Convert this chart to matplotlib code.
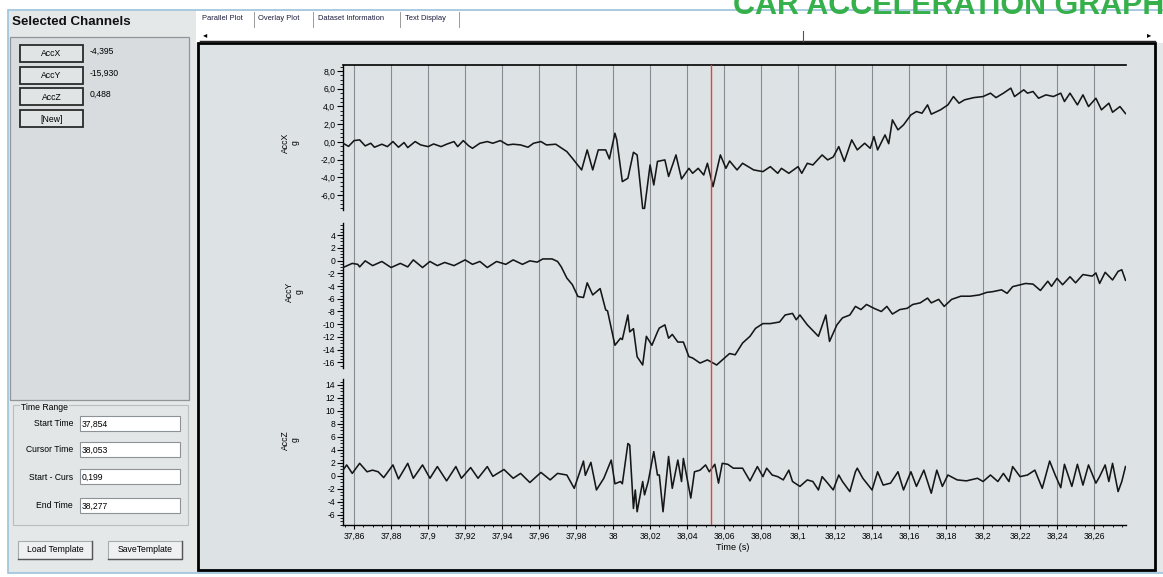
import numpy as np
import matplotlib
matplotlib.use("Agg")
import matplotlib.pyplot as plt
from matplotlib.patches import Rectangle
from matplotlib.ticker import MultipleLocator, AutoMinorLocator, FixedLocator, FuncFormatter

plt.rcParams['font.family'] = ['Liberation Sans', 'DejaVu Sans']

# --- Datos (tiempo en s, aceleracion en g) ---
accx_t = [37.854, 37.857, 37.860, 37.863, 37.866, 37.869, 37.871, 37.875, 37.878, 37.881,
          37.884, 37.887, 37.889, 37.893, 37.896, 37.900, 37.903, 37.907, 37.910, 37.914,
          37.916, 37.919, 37.922, 37.924, 37.928, 37.932, 37.935, 37.939, 37.943, 37.946,
          37.950, 37.954, 37.957, 37.961, 37.964, 37.969, 37.975, 37.978, 37.983, 37.986,
          37.989, 37.992, 37.996, 37.998, 38.001, 38.002, 38.005, 38.008, 38.011, 38.013,
          38.016, 38.017, 38.020, 38.022, 38.024, 38.028, 38.030, 38.034, 38.037, 38.041,
          38.043, 38.046, 38.049, 38.051, 38.054, 38.058, 38.061, 38.063, 38.067, 38.070,
          38.076, 38.081, 38.085, 38.089, 38.091, 38.095, 38.100, 38.102, 38.105, 38.108,
          38.113, 38.116, 38.119, 38.122, 38.125, 38.129, 38.132, 38.136, 38.139, 38.141,
          38.143, 38.147, 38.149, 38.151, 38.154, 38.157, 38.161, 38.164, 38.167, 38.170,
          38.172, 38.177, 38.181, 38.184, 38.187, 38.190, 38.195, 38.200, 38.204, 38.207,
          38.211, 38.215, 38.217, 38.222, 38.224, 38.227, 38.230, 38.234, 38.238, 38.242,
          38.244, 38.247, 38.251, 38.254, 38.257, 38.261, 38.264, 38.268, 38.270, 38.274,
          38.277]
accx_v = [-0.15, -0.50, 0.15, 0.23, -0.45, -0.15, -0.60, -0.26, -0.53, 0.04,
          -0.60, -0.07, -0.64, 0.04, -0.34, -0.53, -0.23, -0.53, -0.26, 0.04,
          -0.53, 0.15, -0.45, -0.72, -0.15, 0.04, -0.15, 0.15, -0.34, -0.26,
          -0.34, -0.60, -0.15, 0.04, -0.34, -0.26, -1.09, -1.85, -3.16, -0.90,
          -3.16, -0.90, -0.90, -1.92, 0.98, 0.23, -4.48, -4.10, -1.17, -1.47,
          -7.50, -7.50, -2.60, -4.86, -2.20, -2.03, -3.90, -1.47, -4.18, -2.98,
          -3.54, -2.98, -3.73, -2.41, -5.05, -1.47, -2.98, -2.15, -3.16, -2.41,
          -3.16, -3.35, -2.79, -3.54, -2.98, -3.54, -2.79, -3.54, -2.41, -2.60,
          -1.47, -2.03, -1.70, -0.53, -2.20, 0.23, -0.90, -0.15, -0.72, 0.60,
          -0.90, 0.79, -0.20, 2.49, 1.36, 1.92, 3.05, 3.43, 3.24, 4.18,
          3.13, 3.62, 4.18, 5.12, 4.37, 4.75, 5.00, 5.12, 5.50, 5.00,
          5.50, 6.07, 5.12, 5.88, 5.50, 5.69, 4.93, 5.31, 5.12, 5.50,
          4.56, 5.50, 4.18, 5.31, 3.99, 4.93, 3.62, 4.37, 3.35, 3.99,
          3.20]

accy_t = [37.854, 37.859, 37.862, 37.863, 37.866, 37.870, 37.875, 37.880, 37.885, 37.889,
          37.892, 37.897, 37.901, 37.905, 37.909, 37.914, 37.920, 37.924, 37.928, 37.932,
          37.937, 37.942, 37.946, 37.951, 37.955, 37.959, 37.962, 37.967, 37.970, 37.972,
          37.975, 37.978, 37.981, 37.984, 37.986, 37.989, 37.993, 37.996, 37.997, 38.001,
          38.004, 38.005, 38.008, 38.009, 38.011, 38.013, 38.016, 38.018, 38.021, 38.024,
          38.025, 38.028, 38.030, 38.032, 38.035, 38.038, 38.041, 38.043, 38.047, 38.051,
          38.056, 38.061, 38.063, 38.066, 38.070, 38.074, 38.077, 38.081, 38.085, 38.090,
          38.093, 38.097, 38.099, 38.101, 38.105, 38.111, 38.115, 38.117, 38.121, 38.124,
          38.128, 38.131, 38.134, 38.137, 38.141, 38.145, 38.148, 38.151, 38.155, 38.159,
          38.162, 38.166, 38.170, 38.172, 38.176, 38.179, 38.183, 38.188, 38.193, 38.198,
          38.202, 38.205, 38.210, 38.213, 38.216, 38.223, 38.227, 38.231, 38.235, 38.237,
          38.240, 38.243, 38.247, 38.250, 38.254, 38.259, 38.261, 38.263, 38.266, 38.270,
          38.273, 38.275, 38.277]
accy_v = [-1.10, -0.45, -0.60, -1.00, -0.05, -0.80, -0.15, -1.10, -0.45, -1.00,
          0.10, -1.10, -0.15, -0.80, -0.30, -0.80, 0.10, -0.60, -0.15, -1.10,
          -0.15, -0.60, 0.10, -0.60, -0.05, -0.25, 0.25, 0.25, -0.15, -1.00,
          -2.75, -3.80, -5.65, -5.80, -3.50, -5.40, -4.40, -7.75, -7.90, -13.30,
          -12.20, -12.40, -8.55, -11.20, -10.70, -15.10, -16.40, -11.90, -13.30, -11.20,
          -10.60, -10.10, -12.20, -11.60, -12.80, -12.80, -15.10, -15.30, -16.10, -15.60,
          -16.40, -15.10, -14.60, -14.80, -12.95, -11.90, -10.65, -9.90, -9.90, -9.65,
          -8.55, -8.30, -9.30, -8.55, -10.10, -11.90, -8.55, -12.70, -10.10, -9.00,
          -8.55, -7.20, -7.70, -6.90, -7.50, -8.00, -7.20, -8.40, -7.70, -7.50,
          -6.90, -6.65, -5.90, -6.65, -6.10, -7.20, -6.10, -5.60, -5.60, -5.40,
          -5.00, -4.90, -4.60, -5.15, -4.10, -3.60, -3.70, -4.70, -3.25, -4.05,
          -2.80, -3.80, -2.55, -3.50, -2.20, -2.45, -1.95, -3.60, -1.85, -3.05,
          -1.70, -1.45, -3.10]

accz_t = [37.854, 37.856, 37.859, 37.863, 37.867, 37.870, 37.873, 37.876, 37.881, 37.884,
          37.889, 37.892, 37.897, 37.901, 37.905, 37.910, 37.915, 37.918, 37.923, 37.927,
          37.932, 37.935, 37.941, 37.946, 37.950, 37.955, 37.961, 37.966, 37.970, 37.975,
          37.979, 37.984, 37.985, 37.988, 37.991, 37.995, 37.999, 38.001, 38.004, 38.005,
          38.008, 38.009, 38.011, 38.012, 38.013, 38.016, 38.017, 38.019, 38.022, 38.024,
          38.025, 38.027, 38.029, 38.030, 38.032, 38.035, 38.037, 38.038, 38.042, 38.044,
          38.047, 38.050, 38.052, 38.055, 38.057, 38.059, 38.062, 38.065, 38.070, 38.074,
          38.078, 38.081, 38.083, 38.086, 38.089, 38.092, 38.095, 38.097, 38.101, 38.105,
          38.108, 38.111, 38.113, 38.116, 38.119, 38.122, 38.124, 38.128, 38.131, 38.132,
          38.135, 38.140, 38.143, 38.146, 38.150, 38.154, 38.157, 38.161, 38.164, 38.168,
          38.172, 38.175, 38.178, 38.181, 38.186, 38.191, 38.197, 38.200, 38.204, 38.208,
          38.211, 38.214, 38.216, 38.220, 38.224, 38.228, 38.232, 38.236, 38.239, 38.242,
          38.244, 38.248, 38.251, 38.254, 38.257, 38.261, 38.263, 38.266, 38.268, 38.270,
          38.273, 38.275, 38.277]
accz_v = [0.90, 1.70, 0.40, 1.95, 0.65, 0.90, 0.65, -0.25, 1.70, -0.45,
          1.95, -0.35, 1.70, -0.35, 1.45, -0.75, 1.45, -0.35, 1.30, -0.35,
          1.45, -0.05, 1.00, -0.35, 0.40, -1.00, 0.55, -0.60, 0.40, 0.15,
          -1.90, 2.30, 0.10, 2.10, -2.15, -0.35, 2.45, -1.20, -0.85, -1.20,
          5.00, 4.75, -5.00, -2.15, -5.50, -0.85, -2.90, -0.85, 3.75, 0.15,
          0.15, -5.50, 0.15, 3.00, -1.90, 2.45, -0.85, 2.70, -3.40, 0.65,
          0.90, 1.70, 0.65, 1.80, -1.10, 1.95, 1.80, 1.20, 1.20, -0.75,
          1.45, -0.10, 1.20, 0.15, -0.10, -0.60, 0.90, -0.85, -1.60, -0.60,
          -0.85, -2.15, -0.10, -1.10, -2.15, 0.15, -0.85, -2.40, 0.65, 1.20,
          -0.35, -2.15, 0.65, -1.40, -1.10, 0.65, -2.15, 0.65, -1.60, 0.90,
          -2.65, 0.90, -1.60, 0.15, -0.60, -0.75, -0.35, -0.85, 0.15, -0.85,
          0.40, -0.85, 1.45, -0.10, 0.15, 0.90, -1.90, 2.30, 0.15, -1.80,
          1.80, -1.60, 1.80, -1.40, 1.70, -1.10, -0.10, 1.70, -0.85, 1.95,
          -2.40, -0.85, 1.45]

start_time = 37.854
end_time = 38.277
cursor_time = 38.053

channel_names = ["AccX", "AccY", "AccZ"]
cursor_values = ["-4,395", "-15,930", "0,488"]
time_labels = ["Start Time", "Cursor Time", "Start - Curs", "End Time"]
time_values = ["37,854", "38,053", "0,199", "38,277"]
tab_names = ["Parallel Plot", "Overlay Plot", "Dataset Information", "Text Display"]

# --- Configuracion de paneles ---
PANELS = [
    {"t": accx_t, "v": accx_v, "ylim": (-8.36, 8.68), "bounds": (-7.7, 8.68),
     "ticks": (-6, 8), "fmt": "{:.1f}", "rect": (65, 216)},
    {"t": accy_t, "v": accy_v, "ylim": (-17.5, 6.99), "bounds": (-16.8, 5.9),
     "ticks": (-16, 4), "fmt": "{:.0f}", "rect": (216, 372)},
    {"t": accz_t, "v": accz_v, "ylim": (-7.54, 16.0), "bounds": (-7.54, 14.9),
     "ticks": (-6, 14), "fmt": "{:.0f}", "rect": (372, 525)},
]
W, H = 1163, 577
X0, X1 = 343, 1125.5
BG = '#dde3e5'
GRID = '#868c91'
TICK_FS = 6.2


def comma_fmt(pattern):
    def f(v, pos):
        if abs(v) < 1e-9:
            v = 0.0
        return pattern.format(v).replace('.', ',')
    return FuncFormatter(f)


def time_fmt(v, pos):
    s = f"{v:.2f}".rstrip('0').rstrip('.')
    return s.replace('.', ',')


fig = plt.figure(figsize=(W / 100, H / 100), dpi=100)
fig.patch.set_facecolor('white')

# capa de interfaz en coordenadas de pixel
ui = fig.add_axes([0, 0, 1, 1], zorder=0)
ui.set_xlim(0, W)
ui.set_ylim(H, 0)
ui.axis('off')


def box(x0, y0, x1, y1, fc, ec='none', lw=0.8, z=1):
    ui.add_patch(Rectangle((x0, y0), x1 - x0, y1 - y0, facecolor=fc,
                           edgecolor=ec, linewidth=lw, zorder=z))


# fondo de la ventana
box(8, 10, W + 2, 573, '#e4e8e9', ec='#9cc3dc', lw=1.2, z=0)
box(196, 11, W, 43, 'white', z=1)
box(198, 43, 1155, 570, BG, ec='black', lw=2.0, z=1)

# titulo verde (recortado por el borde superior, como en la captura)
ui.text(733, 14, "CAR ACCELERATION GRAPH", color='#35b04a', fontsize=22,
        fontweight='bold', ha='left', va='baseline', zorder=5)

# pestañas
tab_x = [202, 258, 318, 405]
for name, tx in zip(tab_names, tab_x):
    ui.text(tx, 19, name, fontsize=5.4, ha='left', va='center', color='#1a1a3a', zorder=3)
for sx in [254, 313, 400, 459]:
    ui.plot([sx, sx], [12, 27], color='#9a9a9a', lw=0.7, zorder=3)
ui.plot([200, 1155], [41, 41], color='#222222', lw=1.0, zorder=3)
ui.plot([803, 803], [31, 41], color='#555555', lw=0.8, zorder=3)
ui.text(205, 36, "\u25c2", fontsize=6, ha='center', va='center', zorder=3)
ui.text(1149, 36, "\u25b8", fontsize=6, ha='center', va='center', zorder=3)

# panel de canales
ui.text(12, 22, "Selected Channels", fontsize=9.6, fontweight='bold',
        ha='left', va='center', color='#111111', zorder=3)
box(10, 37, 189, 400, '#d8dcde', ec='#8f9599', lw=0.9, z=2)
btn_y = [45, 67, 88, 110]
for i, by in enumerate(btn_y):
    box(20, by, 83, by + 17, '#e1e4e5', ec='#2a2a2a', lw=1.3, z=3)
    label = channel_names[i] if i < len(channel_names) else "[New]"
    ui.text(51.5, by + 9, label, fontsize=6.2, ha='center', va='center', zorder=4)
    if i < len(cursor_values):
        ui.text(90, by + 6, cursor_values[i], fontsize=6.2, ha='left', va='center', zorder=4)

# rango de tiempo
box(13, 405, 188, 525, '#e2e6e7', ec='#b9bec1', lw=0.8, z=2)
ui.text(21, 408, "Time Range", fontsize=6.2, ha='left', va='center', zorder=4,
        bbox=dict(facecolor='#e2e6e7', edgecolor='none', pad=0.5))
field_y = [424, 450, 477, 506]
for lab, val, fy in zip(time_labels, time_values, field_y):
    ui.text(73, fy, lab, fontsize=6.2, ha='right', va='center', zorder=4)
    box(80, fy - 8, 180, fy + 7, 'white', ec='#8d9296', lw=0.8, z=3)
    ui.text(82, fy, val, fontsize=6.2, ha='left', va='center', zorder=4)

# botones inferiores
for bx0, bx1, lab in [(18, 92, "Load Template"), (108, 182, "SaveTemplate")]:
    box(bx0, 541, bx1, 559, '#eef0f1', ec='#a8adb0', lw=0.8, z=3)
    ui.plot([bx0, bx1, bx1], [559, 559, 541], color='#555555', lw=1.0, zorder=4)
    ui.text((bx0 + bx1) / 2, 550, lab, fontsize=6.2, ha='center', va='center', zorder=5)

# --- Graficos de canales ---
for i, p in enumerate(PANELS):
    top, bot = p["rect"]
    ax = fig.add_axes([X0 / W, 1 - bot / H, (X1 - X0) / W, (bot - top) / H], zorder=2)
    ax.patch.set_alpha(0)
    ax.plot(p["t"], p["v"], color='#161616', lw=1.15, zorder=3)
    ax.set_xlim(start_time, end_time)
    ax.set_ylim(*p["ylim"])

    ax.xaxis.set_major_locator(MultipleLocator(0.02))
    ax.grid(axis='x', color=GRID, lw=0.8)
    ax.axvline(cursor_time, color='#e8403a', lw=1.0, zorder=4)

    lo, hi = p["ticks"]
    blo, bhi = p["bounds"]
    ax.yaxis.set_major_locator(FixedLocator(np.arange(lo, hi + 0.1, 2.0)))
    minors = np.arange(lo - 2.0, hi + 2.01, 0.5)
    ax.yaxis.set_minor_locator(FixedLocator(minors[(minors >= blo) & (minors <= bhi)]))
    ax.yaxis.set_major_formatter(comma_fmt(p["fmt"]))
    ax.tick_params(axis='y', which='major', length=4, width=0.8, labelsize=TICK_FS, pad=1.5)
    ax.tick_params(axis='y', which='minor', length=2, width=0.6)

    for side in ['right', 'bottom', 'top']:
        ax.spines[side].set_visible(False)
    ax.spines['left'].set_bounds(blo, bhi)
    ax.spines['left'].set_linewidth(1.0)
    if i == 0:
        ax.spines['top'].set_visible(True)
        ax.spines['top'].set_linewidth(1.2)
    if i == len(PANELS) - 1:
        ax.spines['bottom'].set_visible(True)
        ax.spines['bottom'].set_linewidth(1.0)
        ax.xaxis.set_major_formatter(FuncFormatter(time_fmt))
        ax.xaxis.set_minor_locator(AutoMinorLocator(4))
        ax.tick_params(axis='x', which='major', length=3, labelsize=TICK_FS, pad=2)
        ax.tick_params(axis='x', which='minor', length=1.5)
    else:
        ax.tick_params(axis='x', which='both', bottom=False, labelbottom=False)

# etiquetas de eje
ylab_pos = [(290, 143), (294, 292), (290, 440)]
for name, (lx, ly) in zip(channel_names, ylab_pos):
    ui.text(lx, ly, name + "\ng", rotation=90, fontsize=6.2, ha='center', va='center',
            linespacing=1.1, zorder=4)
ui.text(733, 548, "Time (s)", fontsize=6.6, ha='center', va='center', zorder=4)

fig.savefig('out.png', dpi=100, facecolor=fig.get_facecolor())
